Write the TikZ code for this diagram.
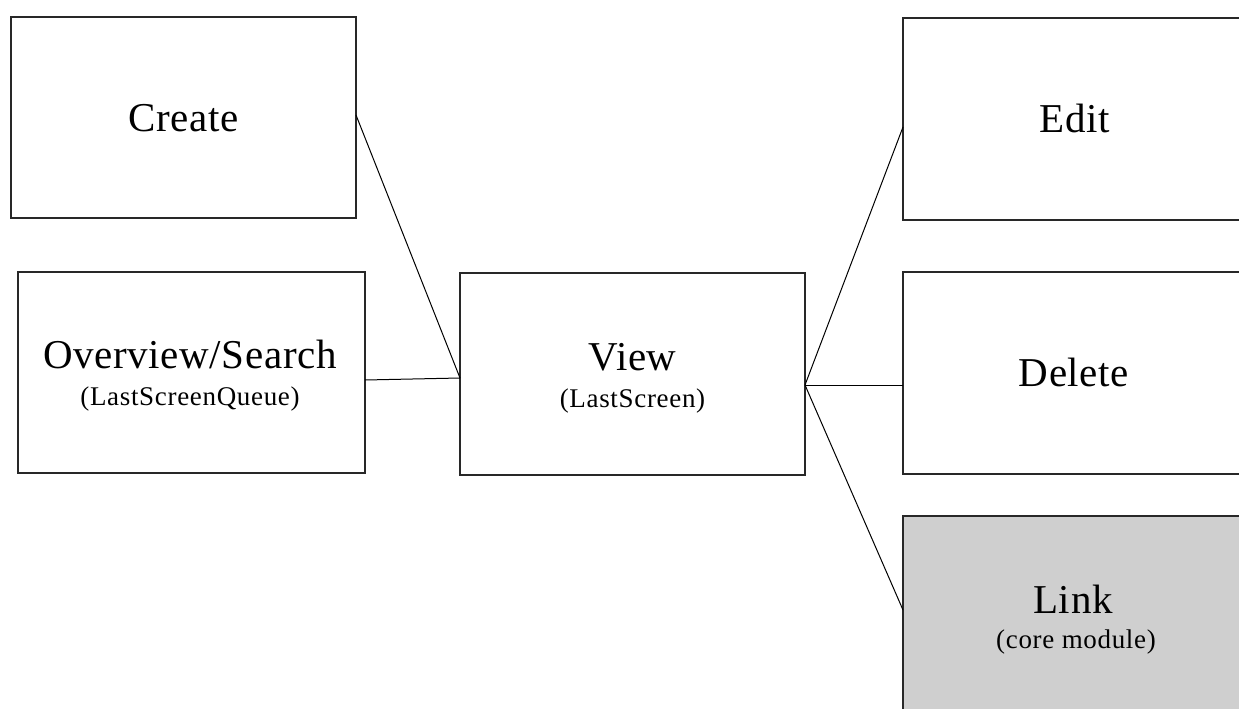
\documentclass[tikz,border=0pt]{standalone}
\usepackage{fontspec}
\setmainfont{Liberation Serif}[LetterSpace=1.5]
\newfontfamily\subfont{Liberation Serif}[LetterSpace=2.5]
\definecolor{linkgray}{RGB}{207,207,207}
\definecolor{edge}{RGB}{40,40,40}
\tikzset{
  box/.style={draw=edge, line width=1.6pt, minimum width=345pt, minimum height=201pt, inner sep=0pt, outer sep=0pt},
  big/.style={anchor=base, inner sep=0pt, font=\fontsize{41}{48}\selectfont},
  small/.style={anchor=base, inner sep=0pt, font=\subfont\fontsize{27}{32}\selectfont},
  conn/.style={draw=black, line width=1pt}
}
\begin{document}
\begin{tikzpicture}[x=1pt,y=-1pt]
\useasboundingbox (0,0) rectangle (1239,709);
\clip (0,0) rectangle (1239,709);
\fill[white] (0,0) rectangle (1239,709);
% boxes
\node[box] (create) at (183.5,117.5) {};
\node[box, minimum width=347pt] (overview) at (191.5,372.5) {};
\node[box, minimum height=202pt] (view) at (632.5,374) {};
\node[box, minimum height=202pt] (edit) at (1075.5,119) {};
\node[box, minimum height=202pt] (delete) at (1075.5,373) {};
\node[box, fill=linkgray] (link) at (1075.5,616.5) {};
% texts
\node[big] (createT) at (183.5,131) {Create};
\node[big] (overviewT) at (190,368) {Overview/Search};
\node[small] (overviewS) at (190,405) {(LastScreenQueue)};
\node[big] (viewT) at (632.5,370) {View};
\node[small] (viewS) at (632.5,407) {(LastScreen)};
\node[big] (editT) at (1075,132) {Edit};
\node[big] (deleteT) at (1074,386) {Delete};
\node[big] (linkT) at (1073,613) {Link};
\node[small] (linkS) at (1076,648) {(core module)};
% connectors
\draw[conn] ([yshift=2.5pt]create.east) -- ([yshift=-4pt]view.west);
\draw[conn] ([yshift=-7.5pt]overview.east) -- ([yshift=-4pt]view.west);
\draw[conn] ([yshift=-11pt]view.east) -- ([yshift=-8pt]edit.west);
\draw[conn] ([yshift=-11pt]view.east) -- ([yshift=-12pt]delete.west);
\draw[conn] ([yshift=-11pt]view.east) -- ([yshift=6.5pt]link.west);
\end{tikzpicture}
\end{document}
